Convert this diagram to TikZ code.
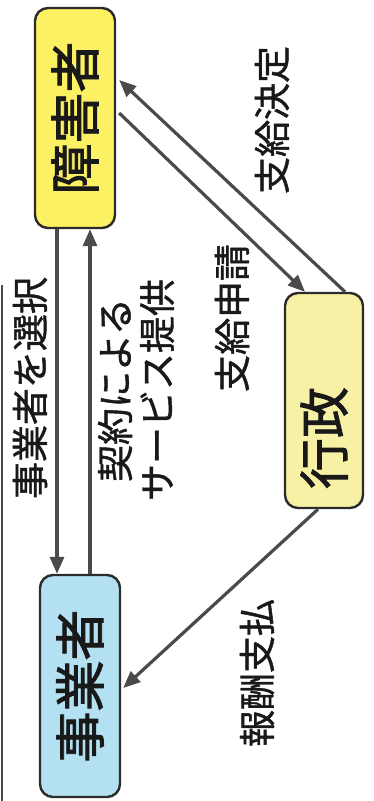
\documentclass[tikz,border=0pt]{standalone}
\usepackage{fontspec}
\newfontfamily\jp{Noto Sans CJK JP}[FakeBold=1.2]
\newfontfamily\jpbig{Noto Sans CJK JP}[FakeBold=1.8]
\usetikzlibrary{arrows.meta}
\definecolor{boxline}{HTML}{2B2B2B}
\definecolor{arrowgray}{HTML}{4A4A4A}
\definecolor{ybright}{HTML}{FCF163}
\definecolor{ypale}{HTML}{F6F1A4}
\definecolor{lblue}{HTML}{B3E1F1}
\begin{document}
\begin{tikzpicture}[x=1pt,y=-1pt,
  box/.style={draw=boxline,line width=2.4pt,rounded corners=13pt,inner sep=0pt},
  big/.style={rotate=90,font=\jpbig\fontsize{51}{51}\selectfont,inner sep=0pt,text=black!90},
  lab/.style={rotate=90,font=\jp\fontsize{37}{42}\selectfont,inner sep=0pt,align=center,text=black!90},
  arr/.style={draw=arrowgray,line width=3.2pt,-{Triangle[length=17pt,width=14pt]}},
  edge line/.style={draw=arrowgray,line width=1.5pt}]
\useasboundingbox (0,0) rectangle (373,801);
\fill[white] (0,0) rectangle (373,801);
% page border remnant
\coordinate (e1) at (2,285);
\coordinate (e2) at (2,801);
\draw[edge line] (e1) -- (e2);
% boxes
\node[box,fill=ybright,minimum width=80pt,minimum height=220pt] (A) at (75,118) {};
\node[box,fill=lblue,minimum width=80pt,minimum height=222pt] (B) at (80,686) {};
\node[box,fill=ypale,minimum width=78pt,minimum height=215pt] (C) at (324,400.5) {};
\node[big] (tA) at (A) {障害者};
\node[big] (tB) at (B) {事業者};
\node[big] (tC) at (324,438) {行政};
% labels
\node[lab] (l1) at (30,388) {事業者を選択};
\node[lab] (l2) at (136,390) {契約による\\サービス提供};
\node[lab] (l3) at (232,318) {支給申請};
\node[lab] (l4) at (272,120) {支給決定};
\node[lab] (l5) at (257,673) {報酬支払};
% connectors
\draw[arr] (A.south -| 57,0) -- (B.north -| 57,0);
\draw[arr] (B.north -| 90,0) -- (A.south -| 90,0);
\draw[arr] ([yshift=5pt,xshift=3pt]A.east) -- ([xshift=-19pt]C.north);
\draw[arr] ([xshift=21pt]C.north) -- ([yshift=38pt,xshift=3pt]A.east);
\draw[arr] ([xshift=-6pt]C.south) -- ([yshift=-2pt,xshift=2pt]B.east);
\end{tikzpicture}
\end{document}
